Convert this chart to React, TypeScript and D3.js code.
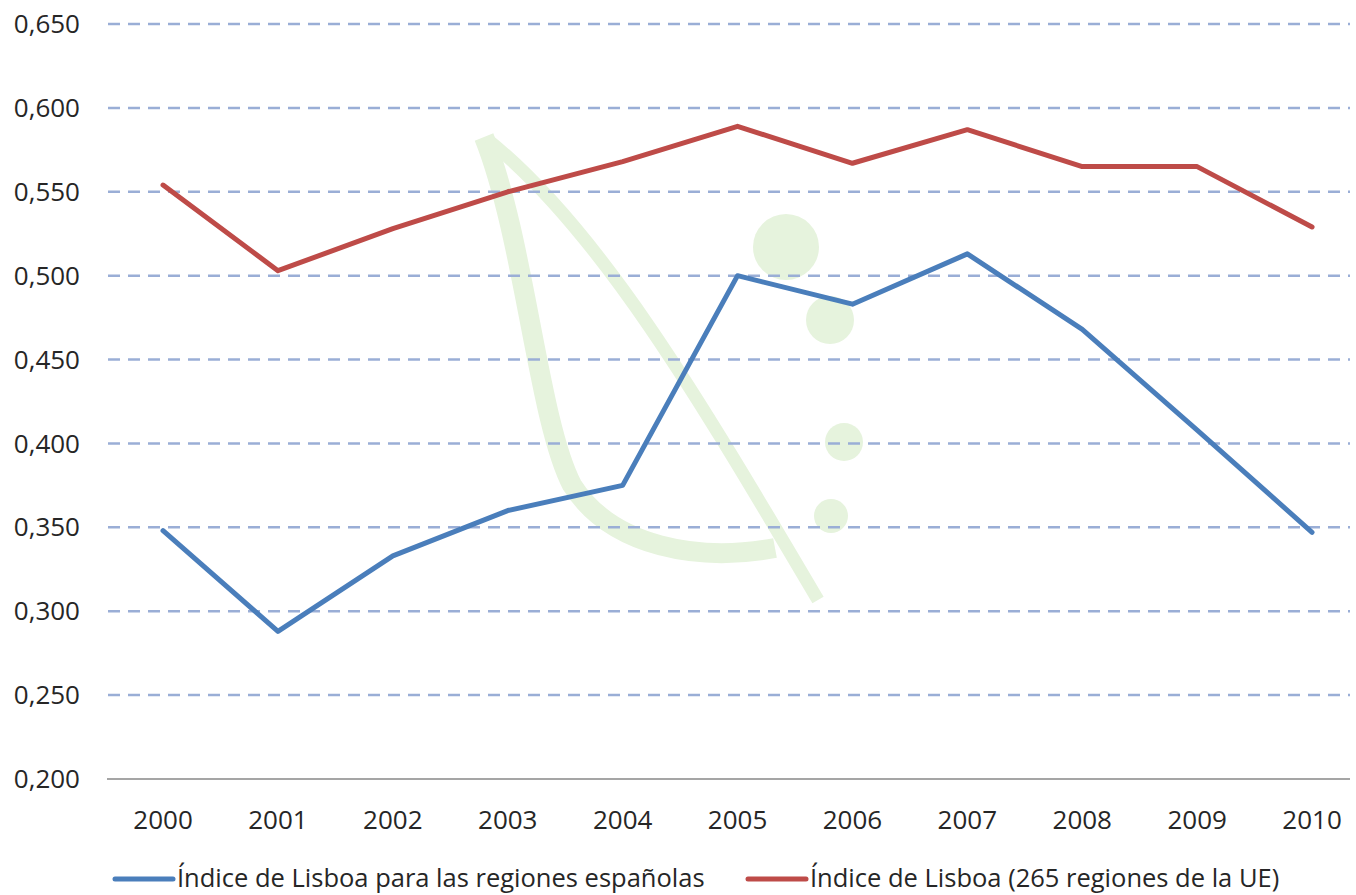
import React from "react";
import * as d3 from "d3";

const years = ["2000","2001","2002","2003","2004","2005","2006","2007","2008","2009","2010"];
const spainIndex = [0.348,0.288,0.333,0.360,0.375,0.500,0.483,0.513,0.468,0.408,0.347];
const euIndex = [0.554,0.503,0.528,0.550,0.568,0.589,0.567,0.587,0.565,0.565,0.529];
const yTicks = [0.2,0.25,0.3,0.35,0.4,0.45,0.5,0.55,0.6,0.65];
const seriesNames = ["Índice de Lisboa para las regiones españolas","Índice de Lisboa (265 regiones de la UE)"];
const seriesColors = ["#4A7EBB","#BE4B48"];

const W = 1356, H = 895;
const FONT = "'Open Sans', sans-serif";

export default function App() {
  const x = d3.scaleBand<string>().domain(years).range([105.6, 1369.5]);
  const y = d3.scaleLinear().domain([0.2, 0.65]).range([779, 24]);
  const cx = (d: string) => (x(d) as number) + x.bandwidth() / 2;
  const line = d3.line<number>().x((_, i) => cx(years[i])).y(v => y(v));
  const fmt = (v: number) => d3.format(".3f")(v).replace(".", ",");
  const series = [spainIndex, euIndex];
  const green = "#e6f3dd";
  return (
    <svg width={W} height={H} style={{ position: "absolute", left: 0, top: 0, background: "#fff" }}>
      {/* watermark */}
      <g>
        <path d="M484,137 C525,240 538,420 572,485 C612,548 700,562 775,548" fill="none" stroke={green} strokeWidth={20} />
        <path d="M488,140 C600,230 700,400 818,600" fill="none" stroke={green} strokeWidth={13} />
        <circle cx={786} cy={247} r={33} fill={green} />
        <circle cx={830} cy={320} r={24} fill={green} />
        <circle cx={844} cy={442} r={19} fill={green} />
        <circle cx={831} cy={516} r={17} fill={green} />
      </g>
      {/* gridlines */}
      {yTicks.filter(t => t > 0.2).map(t => (
        <line key={t} x1={108} x2={1350} y1={y(t)} y2={y(t)} stroke="#9AAED6" strokeWidth={2.5} strokeDasharray="12,8" />
      ))}
      <line x1={107} x2={1350} y1={y(0.2)} y2={y(0.2)} stroke="#878787" strokeWidth={1.5} />
      {/* y labels */}
      {yTicks.map(t => (
        <text key={t} x={80} y={y(t)} dy="0.35em" textAnchor="end" fontFamily={FONT} fontSize={26} fill="#262626">{fmt(t)}</text>
      ))}
      {/* x labels */}
      {years.map(yr => (
        <text key={yr} x={cx(yr)} y={829} textAnchor="middle" fontFamily={FONT} fontSize={26} fill="#262626">{yr}</text>
      ))}
      {/* lines */}
      {series.map((s, i) => (
        <path key={i} d={line(s) as string} fill="none" stroke={seriesColors[i]} strokeWidth={5} strokeLinejoin="round" strokeLinecap="round" />
      ))}
      {/* legend */}
      {[{ x0: 115, tx: 177 }, { x0: 748, tx: 810 }].map((p, i) => (
        <g key={i}>
          <line x1={p.x0} x2={p.x0 + 58} y1={879} y2={879} stroke={seriesColors[i]} strokeWidth={5} strokeLinecap="round" />
          <text x={p.tx} y={887} fontFamily={FONT} fontSize={25.5} fill="#262626">{seriesNames[i]}</text>
        </g>
      ))}
    </svg>
  );
}
